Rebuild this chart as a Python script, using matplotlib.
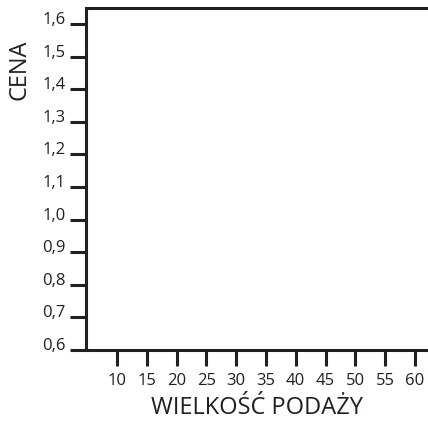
import matplotlib.pyplot as plt
import numpy as np

plt.rcParams['font.family'] = ['Open Sans', 'DejaVu Sans']

x_ticks = [10, 15, 20, 25, 30, 35, 40, 45, 50, 55, 60]
y_ticks = [0.6, 0.7, 0.8, 0.9, 1.0, 1.1, 1.2, 1.3, 1.4, 1.5, 1.6]
y_labels = [f'{v:.1f}'.replace('.', ',') for v in y_ticks]

ink = '#231f20'

fig = plt.figure(figsize=(4.28, 4.21), dpi=100)
ax = fig.add_axes([86 / 428, 71 / 421, 342 / 428, 342 / 421])

ax.set_xlim(4.8, 62.2)
ax.set_ylim(0.6, 1.649)
ax.set_xticks(x_ticks)
ax.set_xticklabels([str(v) for v in x_ticks])
ax.set_yticks(y_ticks)
ax.set_yticklabels(y_labels)

for side in ['left', 'bottom', 'top']:
    ax.spines[side].set_linewidth(2.2)
    ax.spines[side].set_color(ink)
ax.spines['right'].set_visible(False)

ax.tick_params(axis='both', direction='out', length=11.5, width=2.2, color=ink,
               labelsize=12, labelcolor=ink)
ax.tick_params(axis='y', pad=3)
ax.tick_params(axis='x', pad=5)
# labels sit on top of the tick lines
for lbl in ax.get_yticklabels():
    lbl.set_verticalalignment('baseline')

ax.set_xlabel('WIELKOŚĆ PODAŻY', fontsize=17, color=ink, labelpad=5)
ax.set_ylabel('CENA', fontsize=17, color=ink)
ax.yaxis.set_label_coords(-0.16, 0.82)

fig.savefig('out.png', dpi=100)
